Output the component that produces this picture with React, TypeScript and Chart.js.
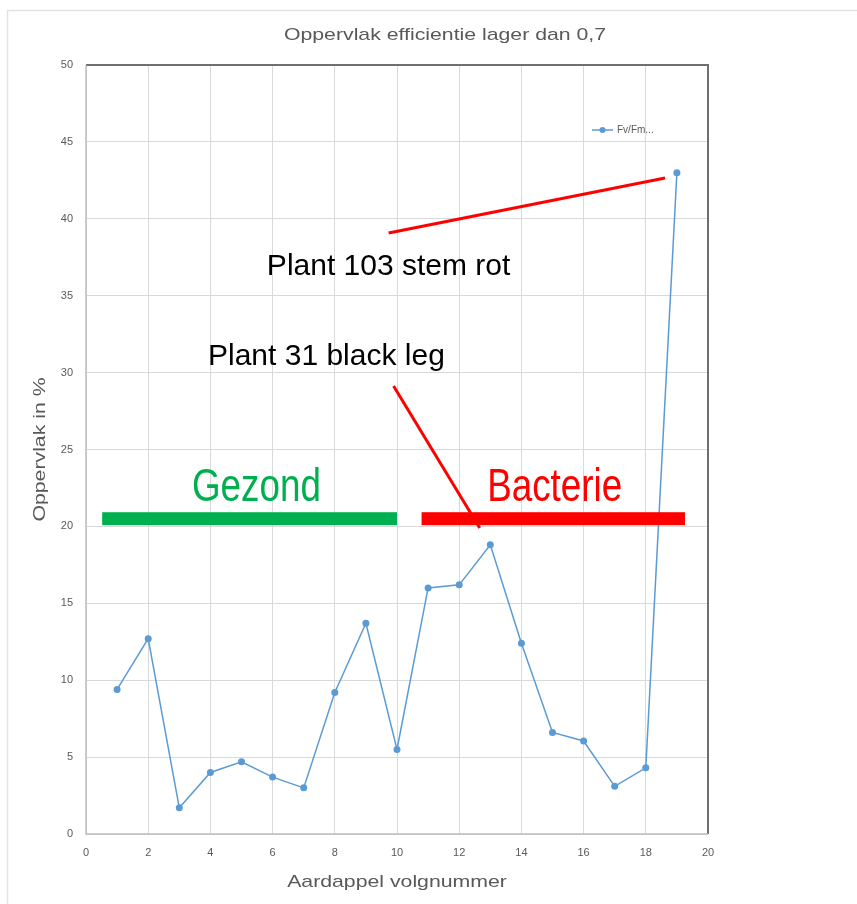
import React, { useEffect, useRef } from "react";
import { Chart, registerables } from "chart.js";

Chart.register(...registerables);

const chartTitle = "Oppervlak efficientie lager dan 0,7";
const xAxisTitle = "Aardappel volgnummer";
const yAxisTitle = "Oppervlak in %";
const seriesLabel = "Fv/Fm...";

const plantNumbers = [1, 2, 3, 4, 5, 6, 7, 8, 9, 10, 11, 12, 13, 14, 15, 16, 17, 18, 19];
const surfacePct = [9.4, 12.7, 1.7, 4.0, 4.7, 3.7, 3.0, 9.2, 13.7, 5.5, 16.0, 16.2, 18.8, 12.4, 6.6, 6.05, 3.1, 4.3, 43.0];

const xTicks = [0, 2, 4, 6, 8, 10, 12, 14, 16, 18, 20];
const yTicks = [0, 5, 10, 15, 20, 25, 30, 35, 40, 45, 50];

// annotations (in data coordinates)
const groupBars = [
  { from: 0.52, to: 10.0, y: 20.5, color: "#00b050" },
  { from: 10.79, to: 19.26, y: 20.5, color: "#ff0000" },
];
const groupLabels = [
  { text: "Gezond", x: 5.48, y: 22.5, color: "#00b050" },
  { text: "Bacterie", x: 15.07, y: 22.5, color: "#ff0000" },
];
const noteLabels = [
  { text: "Plant 103 stem rot", x: 9.73, y: 36.87 },
  { text: "Plant 31 black leg", x: 7.73, y: 31.01 },
];
const noteLines = [
  { x1: 9.73, y1: 39.08, x2: 18.62, y2: 42.65 },
  { x1: 9.89, y1: 29.13, x2: 12.66, y2: 19.9 },
];

const BLUE = "#5b9bd5";
const GRAY_TEXT = "#595959";
const TITLE_FONT = '17px "Liberation Sans", Arial, sans-serif';

function stretchedText(ctx: any, text: string, x: number, y: number, rot: number) {
  ctx.save();
  ctx.fillStyle = GRAY_TEXT;
  ctx.font = TITLE_FONT;
  ctx.textAlign = "center";
  ctx.textBaseline = "middle";
  ctx.translate(x, y);
  ctx.rotate(rot);
  ctx.scale(1.25, 1);
  ctx.fillText(text, 0, 0);
  ctx.restore();
}

const decorPlugin = {
  id: "decor",
  beforeDraw(chart: any) {
    const ctx = chart.ctx;
    const a = chart.chartArea;
    ctx.save();
    ctx.fillStyle = "#ffffff";
    ctx.fillRect(0, 0, chart.width, chart.height);
    ctx.strokeStyle = "#e3e3e3";
    ctx.lineWidth = 1.5;
    ctx.beginPath();
    ctx.moveTo(7.5, chart.height);
    ctx.lineTo(7.5, 10.5);
    ctx.lineTo(chart.width, 10.5);
    ctx.stroke();
    ctx.restore();
    stretchedText(ctx, chartTitle, 445, 35, 0);
    stretchedText(ctx, xAxisTitle, (a.left + a.right) / 2, 882, 0);
    stretchedText(ctx, yAxisTitle, 40, (a.top + a.bottom) / 2, -Math.PI / 2);
  },
  afterDatasetsDraw(chart: any) {
    const ctx = chart.ctx;
    const xs = chart.scales.x;
    const ys = chart.scales.y;
    const a = chart.chartArea;
    ctx.save();
    // plot frame: top and right darker
    ctx.strokeStyle = "#6f6f6f";
    ctx.lineWidth = 2;
    ctx.beginPath();
    ctx.moveTo(a.left, a.top);
    ctx.lineTo(a.right, a.top);
    ctx.lineTo(a.right, a.bottom);
    ctx.stroke();
    ctx.strokeStyle = "#bdbdbd";
    ctx.lineWidth = 1.5;
    ctx.beginPath();
    ctx.moveTo(a.left, a.top);
    ctx.lineTo(a.left, a.bottom);
    ctx.lineTo(a.right, a.bottom);
    ctx.stroke();

    // group bars
    groupBars.forEach((b) => {
      const y = ys.getPixelForValue(b.y);
      const x1 = xs.getPixelForValue(b.from);
      const x2 = xs.getPixelForValue(b.to);
      ctx.fillStyle = b.color;
      ctx.fillRect(x1, y - 6.5, x2 - x1, 13);
    });
    // lines
    ctx.strokeStyle = "#ff0000";
    ctx.lineWidth = 3;
    ctx.lineCap = "butt";
    noteLines.forEach((l) => {
      ctx.beginPath();
      ctx.moveTo(xs.getPixelForValue(l.x1), ys.getPixelForValue(l.y1));
      ctx.lineTo(xs.getPixelForValue(l.x2), ys.getPixelForValue(l.y2));
      ctx.stroke();
    });
    ctx.textAlign = "center";
    ctx.textBaseline = "middle";
    groupLabels.forEach((t) => {
      ctx.save();
      ctx.fillStyle = t.color;
      ctx.font = '46px "Liberation Sans", Arial, sans-serif';
      ctx.translate(xs.getPixelForValue(t.x), ys.getPixelForValue(t.y));
      ctx.scale(0.8, 1);
      ctx.fillText(t.text, 0, 0);
      ctx.restore();
    });
    noteLabels.forEach((t) => {
      ctx.fillStyle = "#000000";
      ctx.font = '30px "Liberation Sans", Arial, sans-serif';
      ctx.fillText(t.text, xs.getPixelForValue(t.x), ys.getPixelForValue(t.y));
    });

    // legend
    const ly = a.top + 65;
    const lx = a.right - 116;
    ctx.strokeStyle = BLUE;
    ctx.lineWidth = 1.5;
    ctx.beginPath();
    ctx.moveTo(lx, ly);
    ctx.lineTo(lx + 21, ly);
    ctx.stroke();
    ctx.fillStyle = BLUE;
    ctx.beginPath();
    ctx.arc(lx + 10.5, ly, 3, 0, Math.PI * 2);
    ctx.fill();
    ctx.fillStyle = GRAY_TEXT;
    ctx.font = '10px "Liberation Sans", Arial, sans-serif';
    ctx.textAlign = "left";
    ctx.textBaseline = "middle";
    ctx.fillText(seriesLabel, lx + 25, ly);
    ctx.restore();
  },
};

export default function App() {
  const ref = useRef<HTMLCanvasElement>(null);
  useEffect(() => {
    if (!ref.current) return;
    const chart = new Chart(ref.current, {
      type: "line",
      data: {
        datasets: [
          {
            label: seriesLabel,
            data: plantNumbers.map((x, i) => ({ x, y: surfacePct[i] })),
            borderColor: BLUE,
            backgroundColor: BLUE,
            borderWidth: 1.5,
            pointRadius: 3.5,
            pointBackgroundColor: BLUE,
            pointBorderWidth: 0,
            tension: 0,
          },
        ],
      },
      options: {
        responsive: false,
        animation: false,
        layout: { padding: { left: 0, right: 149, top: 65, bottom: 0 } },
        plugins: {
          legend: { display: false },
          tooltip: { enabled: false },
          title: { display: false },
        },
        scales: {
          x: {
            type: "linear",
            min: 0,
            max: 20,
            afterBuildTicks: (s: any) => {
              s.ticks = xTicks.map((v) => ({ value: v }));
            },
            afterFit: (s: any) => {
              s.height = 70;
            },
            grid: { color: "#d9d9d9", lineWidth: 1, drawTicks: false },
            border: { display: false },
            ticks: {
              color: GRAY_TEXT,
              padding: 12,
              font: { family: '"Liberation Sans", Arial, sans-serif', size: 11 },
            },
            title: { display: false, text: xAxisTitle },
          },
          y: {
            type: "linear",
            min: 0,
            max: 50,
            afterBuildTicks: (s: any) => {
              s.ticks = yTicks.map((v) => ({ value: v }));
            },
            afterFit: (s: any) => {
              s.width = 86;
            },
            grid: { color: "#d9d9d9", lineWidth: 1, drawTicks: false },
            border: { display: false },
            ticks: {
              color: GRAY_TEXT,
              padding: 13,
              font: { family: '"Liberation Sans", Arial, sans-serif', size: 11 },
            },
            title: { display: false, text: yAxisTitle },
          },
        },
      },
      plugins: [decorPlugin],
    });
    return () => chart.destroy();
  }, []);
  return (
    <div style={{ position: "absolute", left: 0, top: 0, width: 857, height: 904 }}>
      <canvas ref={ref} width={857} height={904} style={{ display: "block" }} />
    </div>
  );
}
